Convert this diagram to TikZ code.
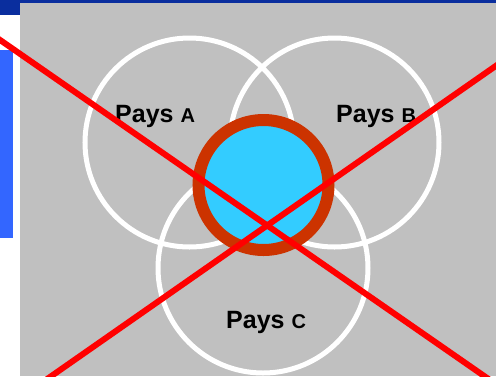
\documentclass[tikz,border=0pt]{standalone}
\usepackage{fontspec}
\setmainfont{Liberation Sans}
\definecolor{topblue}{HTML}{0A2E9E}
\definecolor{barblue}{HTML}{3366FF}
\definecolor{bggray}{HTML}{C0C0C0}
\definecolor{ringred}{HTML}{CC3300}
\definecolor{coreblue}{HTML}{33CCFF}
\definecolor{crossred}{HTML}{FF0000}
\tikzset{
  country/.style={draw=white, line width=5pt},
  crossline/.style={draw=crossred, line width=6pt},
  label/.style={inner sep=0pt, anchor=base west, font=\bfseries\fontsize{25}{30}\selectfont, text=black},
}
\newcommand{\smallletter}[1]{{\fontsize{20}{21}\selectfont #1}}
\begin{document}
\begin{tikzpicture}[x=1pt,y=-1pt]
\useasboundingbox (0,0) rectangle (496,376);
\clip (0,0) rectangle (496,376);
\fill[white] (0,0) rectangle (496,376);
\fill[topblue] (0,0) rectangle (496,3);
\fill[topblue] (0,0) rectangle (20,15);
\fill[barblue] (0,50) rectangle (13,238);
\fill[bggray] (20,3) rectangle (496,376);
% three countries
\draw[country] (189.5,142.5) circle (104.5);
\draw[country] (334.5,142.5) circle (104.5);
\draw[country] (263,268) circle (105);
% core
\draw[draw=ringred, fill=coreblue, line width=12pt] (263.5,185) circle (65);
% labels
\node[label] (pa) at (115,122) {Pays \smallletter{A}};
\node[label] (pb) at (336,122) {Pays \smallletter{B}};
\node[label] (pc) at (226,328) {Pays \smallletter{C}};
% cross-out
\coordinate (c1) at (-10,33);
\coordinate (c2) at (500,387);
\coordinate (c3) at (510,56);
\coordinate (c4) at (40,384);
\draw[crossline] (c1) -- (c2);
\draw[crossline] (c3) -- (c4);
\end{tikzpicture}
\end{document}
